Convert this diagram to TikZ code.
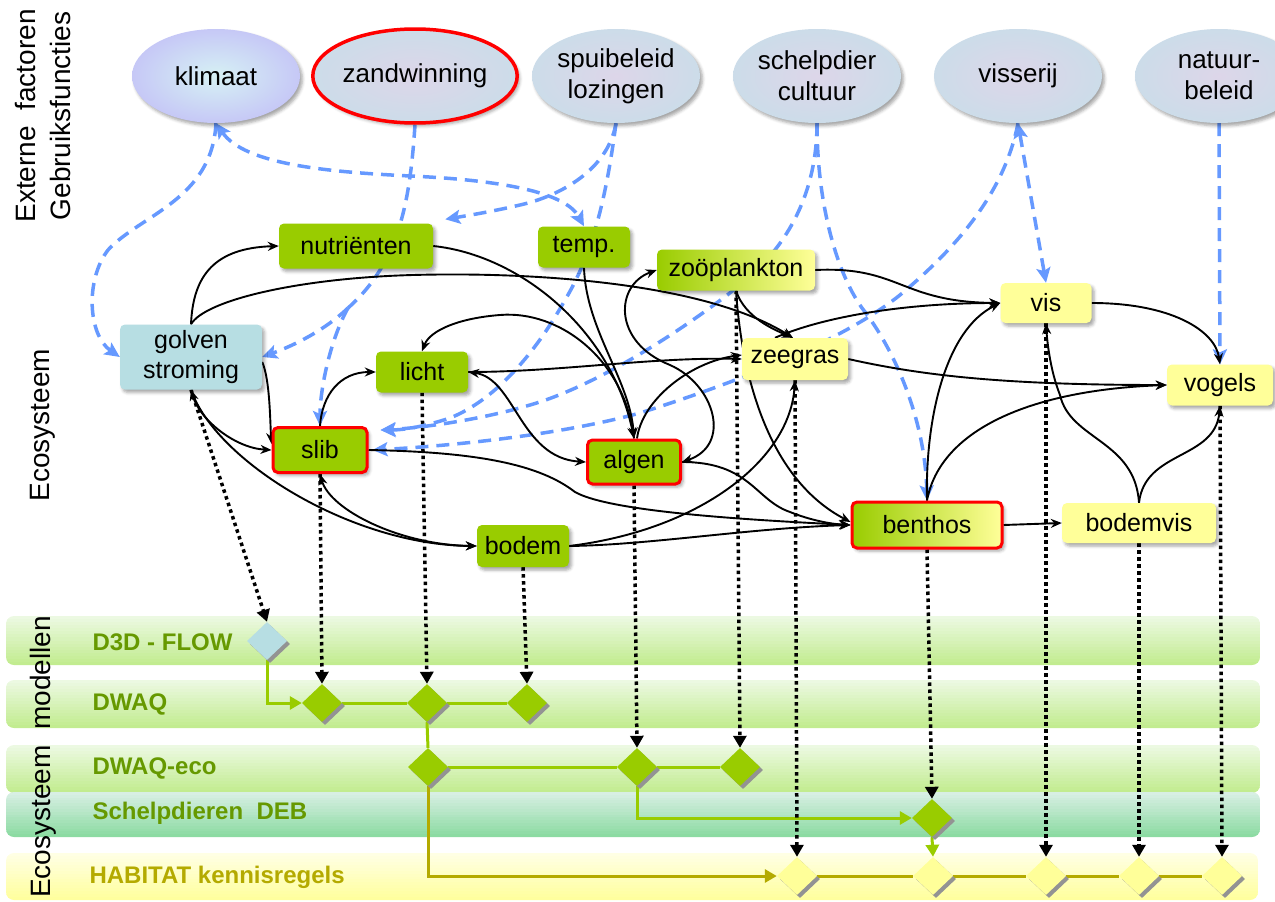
\documentclass[tikz,border=0pt]{standalone}
\usepackage{fontspec}
\setmainfont{Liberation Sans}
\usetikzlibrary{shapes.geometric,arrows.meta,shadows,shadows.blur}
\definecolor{gr}{HTML}{99CC00}
\definecolor{yl}{HTML}{FFFF99}
\definecolor{lb}{HTML}{B7DEE3}
\definecolor{bl}{HTML}{6699FF}
\definecolor{lg}{HTML}{669900}
\definecolor{ol}{HTML}{B4AA00}
\definecolor{elo}{HTML}{CCDCE9}
\definecolor{eli}{HTML}{DDD6E9}
\definecolor{klo}{HTML}{C6C8F6}
\definecolor{kli}{HTML}{D6F1F4}
\definecolor{gbt}{HTML}{ECF9E2}
\definecolor{gbb}{HTML}{C2EC90}
\definecolor{tbt}{HTML}{D8EFE4}
\definecolor{tbb}{HTML}{8CDBA2}
\definecolor{ybt}{HTML}{FFFFE4}
\definecolor{ybb}{HTML}{FFFF9E}
% band with a vertical gradient made of strips: y0, y1, top colour, bottom colour, right x
\newcommand\mybandfill[5]{%
  \begin{scope}
    \clip[rounded corners=8pt] (6,#1) rectangle (#5,#2);
    \foreach \k in {0,...,15}{%
      \pgfmathsetmacro\p{100*\k/15}%
      \fill[#4!\p!#3] (6,{#1+(#2-#1)*\k/16}) rectangle (#5,{#1+(#2-#1)*(\k+1)/16+0.6});
    }
  \end{scope}}
\tikzset{
  shd/.style={blur shadow={shadow xshift=2.5pt, shadow yshift=-3pt, shadow blur radius=3pt, shadow opacity=35}},
  dshd/.style={drop shadow={shadow xshift=3pt, shadow yshift=-3pt, fill=gray!85, opacity=1}},
  ell/.style={ellipse, minimum width=168pt, minimum height=94pt, inner sep=0pt, outer color=elo, inner color=eli, align=center, font=\fontsize{26}{31}\selectfont, shd},
  box/.style={rectangle, rounded corners=5pt, inner sep=0pt, align=center, font=\fontsize{25}{30}\selectfont, shd},
  gbox/.style={box, fill=gr},
  ybox/.style={box, fill=yl},
  redb/.style={draw=red, line width=3pt},
  dia/.style={diamond, minimum width=40pt, minimum height=38pt, inner sep=0pt, dshd},
  mlab/.style={anchor=west, font=\bfseries\fontsize{24}{28}\selectfont, text=lg},
  side/.style={rotate=90, align=center, font=\fontsize{28}{35}\selectfont},
  bd/.style={draw=bl, line width=3.5pt, dash pattern=on 13pt off 8pt, -{Stealth[length=15pt,width=14pt,inset=3pt]}},
  bdd/.style={bd, arrows={Stealth[length=15pt,width=14pt,inset=3pt]-Stealth[length=15pt,width=14pt,inset=3pt]}},
  bdn/.style={draw=bl, line width=3.5pt, dash pattern=on 13pt off 8pt},
  bk/.style={draw=black, line width=1.9pt, -{Stealth[length=11pt,width=9pt]}},
  bkd/.style={bk, arrows={Stealth[length=11pt,width=9pt]-Stealth[length=11pt,width=9pt]}},
  dt/.style={draw=black, line width=3.5pt, dash pattern=on 3.5pt off 3.5pt, -{Triangle[length=12pt,width=13pt]}},
  gl/.style={draw=gr, line width=3pt},
  oll/.style={draw=ol, line width=3pt},
  gtip/.style={-{Triangle[length=12pt,width=13pt]}}
}
\newcommand\allmynodes{%
% ellipses
\node[ell, outer color=klo, inner color=kli] (klimaat) at (216,76) {klimaat};
\node[ell, draw=red, line width=3.5pt] (zand) at (415,76) {zandwinning};
\node[ell] (spui) at (616,76) {spuibeleid\\lozingen};
\node[ell] (schelp) at (817,76) {schelpdier\\cultuur};
\node[ell] (visserij) at (1018,76) {visserij};
\node[ell] (natuur) at (1219,76) {natuur-\\beleid};
% ecosystem boxes
\node[box, fill=lb, minimum width=142pt, minimum height=65pt] (golven) at (191,357) {golven\\stroming};
\node[gbox, minimum width=154pt, minimum height=45pt] (nutr) at (356,246) {nutriënten};
\node[gbox, minimum width=92pt, minimum height=41pt] (temp) at (584,247) {temp.};
\node[gbox, minimum width=92pt, minimum height=41pt] (licht) at (422,372) {licht};
\node[gbox, redb, minimum width=94pt, minimum height=45pt] (slib) at (320,450) {slib};
\node[gbox, minimum width=92pt, minimum height=42pt] (bodem) at (523,546) {bodem};
\node[gbox, redb, minimum width=93pt, minimum height=44pt] (algen) at (634,462) {algen};
\node[box, left color=gr, right color=yl, minimum width=158pt, minimum height=41pt] (zoo) at (736,270) {zoöplankton};
\node[ybox, minimum width=106pt, minimum height=42pt] (zeegras) at (795,359) {zeegras};
\node[ybox, minimum width=91pt, minimum height=40pt] (vis) at (1046,303) {vis};
\node[ybox, minimum width=106pt, minimum height=41pt] (vogels) at (1220,385) {vogels};
\node[box, redb, left color=gr, right color=yl, minimum width=150pt, minimum height=46pt] (benthos) at (927,525) {benthos};
\node[ybox, minimum width=154pt, minimum height=40pt] (bodemvis) at (1139,523) {bodemvis};
% diamonds
\node[dia, fill=lb] (d3d) at (267,641) {};
\node[dia, fill=gr] (dw1) at (322,703) {};
\node[dia, fill=gr] (dw2) at (427,703) {};
\node[dia, fill=gr] (dw3) at (527,703) {};
\node[dia, fill=gr] (ec1) at (428,767) {};
\node[dia, fill=gr] (ec2) at (637,767) {};
\node[dia, fill=gr] (ec3) at (740,767) {};
\node[dia, fill=gr] (deb) at (932,818) {};
\node[dia, fill=yl] (h1) at (797,876) {};
\node[dia, fill=yl] (h2) at (933,876) {};
\node[dia, fill=yl] (h3) at (1046,876) {};
\node[dia, fill=yl] (h4) at (1139,876) {};
\node[dia, fill=yl] (h5) at (1222,876) {};
}
\begin{document}
\begin{tikzpicture}[x=1pt,y=-1pt]
\useasboundingbox (0,0) rectangle (1275,902);

% bands
\mybandfill{616}{665}{gbt}{gbb}{1260}
\mybandfill{680}{728}{gbt}{gbb}{1260}
\mybandfill{745}{793}{gbt}{gbb}{1260}
\mybandfill{792}{837}{tbt}{tbb}{1260}
\mybandfill{853}{900}{ybt}{ybb}{1258}

% first pass: invisible nodes, only to fix the anchors
\begin{scope}[every node/.append style={opacity=0}, shd/.style={}, dshd/.style={}]
\allmynodes
\end{scope}

\coordinate (nutrTR) at ([xshift=12pt,yshift=4pt]nutr.north east);
\coordinate (slibA) at ([xshift=12pt,yshift=20pt]slib.east);
\coordinate (slibB) at ([xshift=4pt]slib.east);
\coordinate (zs) at (348,308);

% model connectors
\draw[gl, gtip] (d3d.south) |- (dw1.west);
\draw[gl] (dw1.east) -- (dw2.west) (dw2.east) -- (dw3.west);
\draw[gl] (dw2.south) -- (ec1.north);
\draw[gl] (ec1.east) -- (ec2.west) (ec2.east) -- (ec3.west);
\draw[gl, gtip] (ec2.south) |- (deb.west);
\draw[gl, gtip] (deb.south) -- (h2.north);
\draw[oll, gtip] (ec1.south) |- (h1.west);
\draw[oll] (h1.east) -- (h2.west) (h2.east) -- (h3.west) (h3.east) -- (h4.west) (h4.east) -- (h5.west);

% dotted links
\draw[dt] (golven.south) -- (d3d.north);
\draw[dt] (slib.south) -- (dw1.north);
\draw[dt] (licht.south) -- (dw2.north);
\draw[dt] (bodem.south) -- (dw3.north);
\draw[dt] (algen.south) -- (ec2.north);
\draw[dt] (zoo.south) -- (ec3.north);
\draw[dt] (zeegras.south) -- (h1.north);
\draw[dt] (benthos.south) -- (deb.north);
\draw[dt] (vis.south) -- (h3.north);
\draw[dt] (bodemvis.south) -- (h4.north);
\draw[dt] (vogels.south) -- (h5.north);

% blue dashed external influences
\draw[bd] (klimaat.south) .. controls (212,200) and (140,215) .. (108,250) .. controls (85,280) and (88,335) .. (golven.west);
\draw[bdd] (klimaat.south) .. controls (245,165) and (330,172) .. (410,176) .. controls (500,180) and (565,192) .. (temp.north);
\draw[bdn] (zand.south) .. controls (410,200) and (400,262) .. (zs);
\draw[bd] (zs) .. controls (325,330) and (295,345) .. (golven.east);
\draw[bd] (zs) .. controls (330,340) and (320,390) .. (slib.north);
\draw[bd] (spui.south) .. controls (608,170) and (560,196) .. (520,205) .. controls (490,212) and (465,216) .. (nutrTR);
\draw[bd] (spui.south) .. controls (606,200) and (592,255) .. (565,300) .. controls (540,345) and (500,398) .. (450,418) .. controls (420,428) and (400,430) .. (slibA);
\draw[bd] (schelp.south) .. controls (817,190) and (790,245) .. (740,285) .. controls (690,325) and (600,385) .. (530,405) .. controls (480,420) and (420,428) .. (slibA);
\draw[bd] (schelp.south) .. controls (817,200) and (835,270) .. (862,308) .. controls (895,350) and (925,420) .. (benthos.north);
\draw[bdd] (visserij.south) -- (vis.north);
\draw[bd] (visserij.south) .. controls (1005,190) and (960,245) .. (900,295) .. controls (850,335) and (760,375) .. (640,413) .. controls (560,435) and (450,446) .. (slibB);
\draw[bd] (natuur.south) -- (vogels.north);

% black ecosystem relations
\draw[bk] (golven.north) .. controls (193,275) and (215,248) .. (nutr.west);
\draw[bk] (golven.north) .. controls (205,300) and (300,278) .. (413,275) .. controls (520,272) and (700,280) .. ([xshift=-2pt]zeegras.north);
\draw[bk] ([yshift=-5pt]golven.east) .. controls (270,380) and (270,420) .. ([yshift=6pt]slib.west);
\draw[bkd] (golven.south) .. controls (200,420) and (235,448) .. (slib.west);
\draw[bk] (golven.south) .. controls (215,460) and (350,545) .. (bodem.west);
\draw[bk] (slib.north) .. controls (322,395) and (340,372) .. (licht.west);
\draw[bkd] (slib.south) .. controls (330,510) and (400,545) .. (bodem.west);
\draw[bk] (slib.east) .. controls (480,452) and (540,465) .. (575,492) .. controls (610,512) and (750,520) .. (benthos.west);
\draw[bk] (nutr.east) .. controls (520,255) and (612,330) .. (algen.north);
\draw[bk] (temp.south) .. controls (586,330) and (630,380) .. (algen.north);
\draw[bk] (algen.north) .. controls (625,360) and (560,310) .. (500,315) .. controls (460,318) and (430,330) .. (licht.north);
\draw[bkd] (licht.east) .. controls (515,378) and (520,458) .. (algen.west);
\draw[bk] (licht.east) .. controls (560,372) and (650,357) .. (zeegras.west);
\draw[bk] ([xshift=3pt]algen.north) .. controls (642,400) and (690,362) .. ([yshift=4pt]zeegras.west);
\draw[bkd] (zoo.west) .. controls (615,285) and (612,342) .. (670,365) .. controls (715,385) and (732,445) .. (algen.east);
\draw[bk] (algen.east) .. controls (750,462) and (755,500) .. (790,512) .. controls (810,520) and (830,524) .. (benthos.west);
\draw[bk] (zoo.south) .. controls (745,318) and (775,330) .. ([xshift=-2pt]zeegras.north);
\draw[bk] (zoo.south) .. controls (742,380) and (770,480) .. ([yshift=3pt]benthos.west);
\draw[bk] (zoo.east) .. controls (900,266) and (900,302) .. (vis.west);
\draw[bk] ([xshift=-20pt]zeegras.north) .. controls (820,318) and (900,303) .. (vis.west);
\draw[bk] (zeegras.east) .. controls (920,375) and (1000,385) .. (vogels.west);
\draw[bk] (bodem.east) .. controls (700,530) and (790,460) .. (zeegras.south);
\draw[bk] (bodem.east) .. controls (650,545) and (750,528) .. (benthos.west);
\draw[bk] (benthos.north) .. controls (925,420) and (945,330) .. (vis.west);
\draw[bk] (benthos.north) .. controls (940,430) and (1030,390) .. (vogels.west);
\draw[bk] (benthos.east) -- (bodemvis.west);
\draw[bk] (vis.east) .. controls (1170,303) and (1215,330) .. (vogels.north);
\draw[bk] (bodemvis.north) .. controls (1135,440) and (1070,440) .. (1060,395) .. controls (1050,370) and (1047,340) .. (vis.south);
\draw[bk] (bodemvis.north) .. controls (1145,450) and (1215,460) .. (vogels.south);

% second pass: the visible nodes, on top of the connectors
\allmynodes

% side labels
\node[side] (ext) at (43,116) {Externe\ \ factoren\\Gebruiksfuncties};
\node[side] (eco) at (43,425) {Ecosysteem};
\node[side] (ecomod) at (43,757) {Ecosysteem\ \ modellen};

% model labels
\node[mlab] (l1) at (89,642) {D3D - FLOW};
\node[mlab] (l2) at (89,704) {DWAQ};
\node[mlab] (l3) at (89,768) {DWAQ-eco};
\node[mlab] (l4) at (89,813) {Schelpdieren\ \ DEB};
\node[mlab, text=ol] (l5) at (86,877) {HABITAT kennisregels};
\end{tikzpicture}
\end{document}
